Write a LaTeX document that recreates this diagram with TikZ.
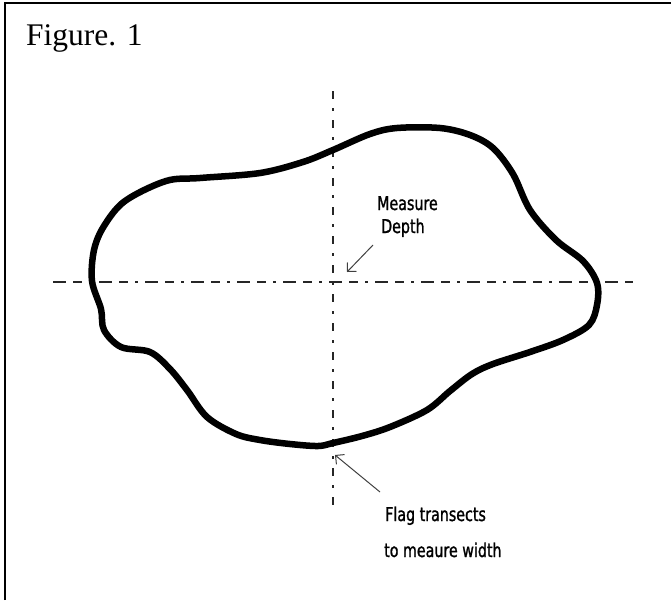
\documentclass[tikz,border=0pt]{standalone}
\usepackage{fontspec}
\setmainfont{Liberation Serif}
\newfontfamily\labfont[FakeStretch=0.75,FakeBold=1.2]{DejaVu Sans}
\usetikzlibrary{arrows.meta}
\tikzset{
  frameline/.style={line width=2.5pt, black},
  axisline/.style={line width=1.3pt, black!85, dash pattern=on 13pt off 7pt on 9pt off 7pt on 3pt off 7pt},
  vaxisline/.style={line width=1.3pt, black!85, dash pattern=on 8pt off 9pt on 3pt off 9pt},
  blob/.style={line width=6.5pt, black, line join=round},
  lab/.style={font=\labfont\fontsize{19}{21}\selectfont, anchor=base west, inner sep=0pt},
  pointer/.style={line width=1pt, black!75, -{Straight Barb[angle=90:9pt, line width=1pt]}},
}
\begin{document}
\begin{tikzpicture}[x=1pt,y=-1pt]
\useasboundingbox (0,0) rectangle (671,600);
% frame (left and top lines)
\coordinate (fTL) at (5,3);
\coordinate (fTR) at (671,3);
\coordinate (fBL) at (5,600);
\draw[frameline] (fBL) -- (fTL) -- (fTR);
% title
\node[font=\fontsize{31.5}{34}\selectfont, anchor=base west, inner sep=0pt] (title) at (26,45) {Figure. 1};
% transect axes
\coordinate (hL) at (53,282);
\coordinate (hR) at (633,282);
\coordinate (vT) at (333,91);
\coordinate (vB) at (333,511);
\draw[axisline] (hL) -- (hR);
\draw[vaxisline] (vT) -- (vB);
% outline of the pond
\draw[blob] plot[smooth cycle, tension=0.55] coordinates {
  (92,281) (94,250) (104,226) (125,201) (166,181) (200,178) (260,173) (303,162)
  (333,150) (370,134) (397,128) (440,128) (470,135) (493,148) (513,174)
  (530,210) (556,240) (583,261) (597,283) (597,305) (589,325) (563,340)
  (530,352) (493,364) (472,374) (450,391) (427,410) (390,427) (362,436)
  (333,443) (318,446) (290,444) (260,440) (236,434) (207,417) (187,390)
  (170,369) (150,352) (121,347) (104,330) (101,309)
};
% labels
\node[lab] (meas) at (377,210) {Measure};
\node[lab] (depth) at (381,233) {Depth};
\node[lab] (flag) at (385,521) {Flag transects};
\node[lab] (width) at (384,557) {to meaure width};
% pointers
\coordinate (p1s) at (373,245);
\coordinate (p1e) at (347,272);
\coordinate (p2s) at (380,492);
\coordinate (p2e) at (335,455);
\draw[pointer] (p1s) -- (p1e);
\draw[pointer] (p2s) -- (p2e);
\end{tikzpicture}
\end{document}
